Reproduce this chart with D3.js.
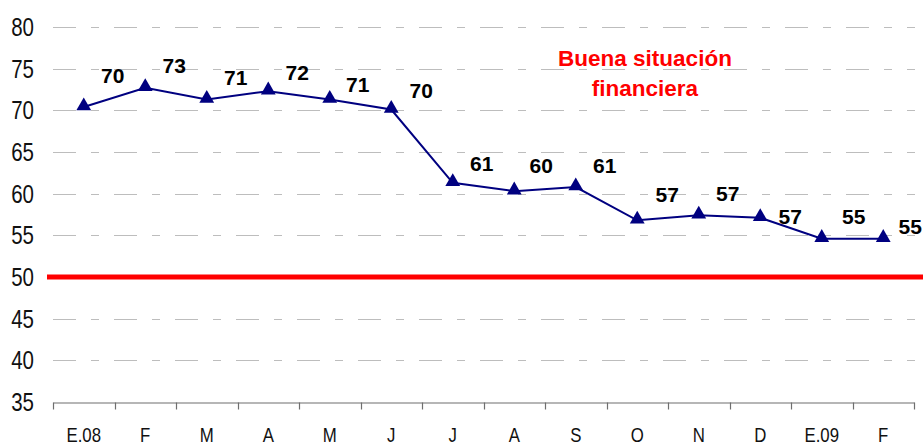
<!DOCTYPE html>
<html>
<head>
<meta charset="utf-8">
<script src="https://cdn.jsdelivr.net/npm/d3@7"></script>
<style>
  body { margin: 0; background: #fff; }
  svg text { font-family: "Liberation Sans", Arial, sans-serif; }
  .bold { font-weight: bold; }
</style>
</head>
<body>
<div id="chart-area"></div>
<script>
// months, Jan 2008 - Feb 2009
var months = ["E.08", "F", "M", "A", "M", "J", "J", "A", "S", "O", "N", "D", "E.09", "F"];
var values = [70.4, 72.7, 71.3, 72.3, 71.3, 70.1, 61.3, 60.3, 60.8, 56.8, 57.4, 57.1, 54.6, 54.6];
var valueLabels = ["70", "73", "71", "72", "71", "70", "61", "60", "61", "57", "57", "57", "55", "55"];
var yTicks = [35, 40, 45, 50, 55, 60, 65, 70, 75, 80];
var threshold = 50;
var noteLines = ["Buena situación", "financiera"];

var width = 923, height = 446;
var margin = { left: 53, right: 9, top: 27, bottom: 44 };
var narrow = "scale(0.82,1)"; // fake Arial Narrow, no narrow face installed

var svg = d3.select("#chart-area")
    .append("svg")
    .attr("width", width)
    .attr("height", height);

var x = d3.scaleBand()
    .domain(d3.range(months.length))
    .range([margin.left, width - margin.right])
    .padding(0);

var y = d3.scaleLinear()
    .domain([35, 80])
    .range([height - margin.bottom, margin.top]);

// dashed gridlines
svg.append("g")
    .selectAll("line")
    .data(yTicks.filter(function (d) { return d > 35 && d != threshold; }))
    .enter()
    .append("line")
    .attr("x1", margin.left)
    .attr("x2", width - margin.right + 1)
    .attr("y1", function (d) { return Math.round(y(d)) + 0.5; })
    .attr("y2", function (d) { return Math.round(y(d)) + 0.5; })
    .attr("stroke", "#bdbdbd")
    .attr("stroke-width", 1.2)
    .attr("stroke-dasharray", "23,15,8,15");

// y labels
svg.append("g")
    .selectAll("g")
    .data(yTicks)
    .enter()
    .append("g")
    .attr("transform", function (d) { return "translate(34," + y(d) + ")"; })
    .append("text")
    .attr("transform", narrow)
    .attr("dy", "0.36em")
    .attr("text-anchor", "end")
    .attr("font-size", 25)
    .attr("fill", "#111")
    .text(function (d) { return d; });

// x axis
var xAxis = d3.axisBottom(x)
    .tickSize(0)
    .tickFormat(function (i) { return months[i]; });

var gx = svg.append("g")
    .attr("transform", "translate(0," + (Math.round(y(35)) + 0.5) + ")")
    .call(xAxis);
gx.select(".domain").attr("stroke", "#6e6e6e").attr("stroke-width", 1.2);
gx.selectAll(".tick text")
    .attr("font-family", "Liberation Sans, Arial, sans-serif")
    .attr("font-size", 20.5)
    .attr("fill", "#111")
    .attr("transform", narrow)
    .attr("dy", 0)
    .attr("y", 39.5);

// tick marks on band edges
gx.append("g")
    .selectAll("line")
    .data(d3.range(months.length + 1))
    .enter()
    .append("line")
    .attr("x1", function (i) { return Math.round(margin.left + i * x.bandwidth()) + 0.5; })
    .attr("x2", function (i) { return Math.round(margin.left + i * x.bandwidth()) + 0.5; })
    .attr("y1", 0)
    .attr("y2", 7)
    .attr("stroke", "#6e6e6e")
    .attr("stroke-width", 1.2);

// red threshold line
svg.append("line")
    .attr("x1", 47)
    .attr("x2", width)
    .attr("y1", y(threshold))
    .attr("y2", y(threshold))
    .attr("stroke", "#ff0000")
    .attr("stroke-width", 5);

// series
var line = d3.line()
    .x(function (d, i) { return x(i) + x.bandwidth() / 2; })
    .y(function (d) { return y(d); });

svg.append("path")
    .datum(values)
    .attr("fill", "none")
    .attr("stroke", "#000080")
    .attr("stroke-width", 2)
    .attr("d", line);

var tri = d3.symbol().type(d3.symbolTriangle).size(95);

svg.append("g")
    .selectAll("path")
    .data(values)
    .enter()
    .append("path")
    .attr("d", tri)
    .attr("transform", function (d, i) {
        return "translate(" + (x(i) + x.bandwidth() / 2) + "," + (y(d) - 1) + ")";
    })
    .attr("fill", "#000080");

// data labels, mostly up-right of the point, a few moved by hand like the original
var labelNudge = { 0: [0, -10], 3: [0, 3], 4: [-1, 7], 5: [1, 3], 6: [0, 3], 7: [-2, -4], 9: [1, -4], 11: [1, 21], 12: [3, 0], 13: [-2, 10] };

svg.append("g")
    .selectAll("text")
    .data(values)
    .enter()
    .append("text")
    .attr("class", "bold")
    .attr("font-size", 21)
    .attr("text-anchor", "middle")
    .attr("dy", "0.36em")
    .attr("x", function (d, i) {
        var n = labelNudge[i] || [0, 0];
        return x(i) + x.bandwidth() / 2 + 29 + n[0];
    })
    .attr("y", function (d, i) {
        var n = labelNudge[i] || [0, 0];
        return y(d) - 22 + n[1];
    })
    .text(function (d, i) { return valueLabels[i]; });

// annotation
svg.append("g")
    .selectAll("text")
    .data(noteLines)
    .enter()
    .append("text")
    .attr("class", "bold")
    .attr("font-size", 22.5)
    .attr("fill", "#ff0000")
    .attr("text-anchor", "middle")
    .attr("x", 645)
    .attr("y", function (d, i) { return 66 + i * 30; })
    .text(function (d) { return d; });
</script>
</body>
</html>
